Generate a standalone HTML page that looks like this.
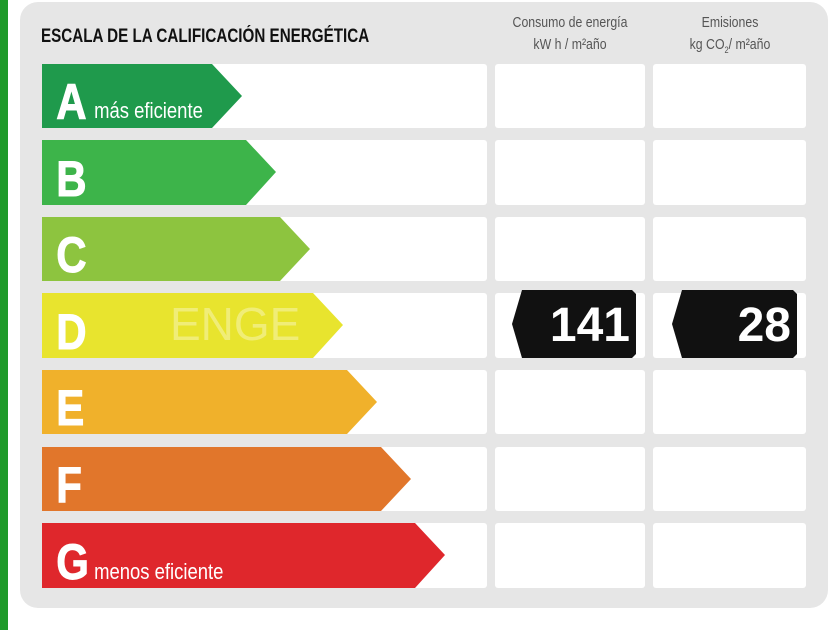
<!DOCTYPE html>
<html><head><meta charset="utf-8"><style>
body{margin:0;width:840px;height:630px;background:#fff;position:relative;overflow:hidden;font-family:"Liberation Sans",sans-serif}
.g{position:absolute;left:0;top:0;width:8px;height:630px;background:#1f9a2a}
.panel{position:absolute;left:20px;top:2px;width:808px;height:606px;background:#e6e6e6;border-radius:18px}
.t{position:absolute;font-weight:bold;color:#111}
.h{position:absolute;color:#555;font-size:15px;text-align:center;transform:scaleX(.82);transform-origin:center}
</style></head><body>
<div class="g"></div>
<div class="panel"></div>
<div class="t" style="left:41px;top:26px;font-size:19px;transform:scaleX(.8);transform-origin:left">ESCALA DE LA CALIFICACIÓN ENERGÉTICA</div>
<div class="h" style="left:470px;top:12px;width:200px;line-height:22px">Consumo de energía<br>kW h / m²año</div>
<div class="h" style="left:630px;top:12px;width:200px;line-height:22px">Emisiones<br>kg CO<sub style="font-size:9px">2</sub>/ m²año</div>
<svg width="840" height="630" style="position:absolute;left:0;top:0" font-family="Liberation Sans, sans-serif">
<g fill="#fff">
<rect x="42" y="64" width="445" height="64" rx="3"/><rect x="495" y="64" width="150" height="64" rx="3"/><rect x="653" y="64" width="153" height="64" rx="3"/>
<rect x="42" y="140" width="445" height="65" rx="3"/><rect x="495" y="140" width="150" height="65" rx="3"/><rect x="653" y="140" width="153" height="65" rx="3"/>
<rect x="42" y="217" width="445" height="64" rx="3"/><rect x="495" y="217" width="150" height="64" rx="3"/><rect x="653" y="217" width="153" height="64" rx="3"/>
<rect x="42" y="293" width="445" height="65" rx="3"/><rect x="495" y="293" width="150" height="65" rx="3"/><rect x="653" y="293" width="153" height="65" rx="3"/>
<rect x="42" y="370" width="445" height="64" rx="3"/><rect x="495" y="370" width="150" height="64" rx="3"/><rect x="653" y="370" width="153" height="64" rx="3"/>
<rect x="42" y="447" width="445" height="64" rx="3"/><rect x="495" y="447" width="150" height="64" rx="3"/><rect x="653" y="447" width="153" height="64" rx="3"/>
<rect x="42" y="523" width="445" height="65" rx="3"/><rect x="495" y="523" width="150" height="65" rx="3"/><rect x="653" y="523" width="153" height="65" rx="3"/>
</g>
<polygon points="42,64 212,64 242,96 212,128 42,128" fill="#1f9a4c"/>
<polygon points="42,140 246,140 276,172 246,205 42,205" fill="#3db44a"/>
<polygon points="42,217 280,217 310,249 280,281 42,281" fill="#8dc43f"/>
<polygon points="42,293 313,293 343,325 313,358 42,358" fill="#e8e42e"/>
<polygon points="42,370 347,370 377,402 347,434 42,434" fill="#f0b12b"/>
<polygon points="42,447 381,447 411,479 381,511 42,511" fill="#e1762b"/>
<polygon points="42,523 415,523 445,555 415,588 42,588" fill="#df272c"/>
<g fill="#fff" font-weight="bold" font-size="50" transform="scale(0.84,1)" stroke="#fff" stroke-width="1">
<text x="67" y="119">A</text>
<text x="67" y="196">B</text><text x="67" y="272">C</text><text x="67" y="349">D</text>
<text x="67" y="425">E</text><text x="67" y="502">F</text><text x="67" y="579">G</text>
</g>
<g fill="#fff" font-size="22" transform="scale(0.84,1)"><text x="112" y="118">más eficiente</text><text x="112" y="579">menos eficiente</text></g>
<text x="170" y="340" fill="#fff" fill-opacity=".35" font-size="46">ENGE</text>
<polygon points="522,290 632,290 636,294 636,354 632,358 522,358 512,324" fill="#111"/>
<polygon points="682,290 793,290 797,294 797,354 793,358 682,358 672,324" fill="#111"/>
<g fill="#fff" font-weight="bold" font-size="48" text-anchor="end"><text x="630" y="341">141</text><text x="791" y="341">28</text></g>
</svg>
</body></html>
